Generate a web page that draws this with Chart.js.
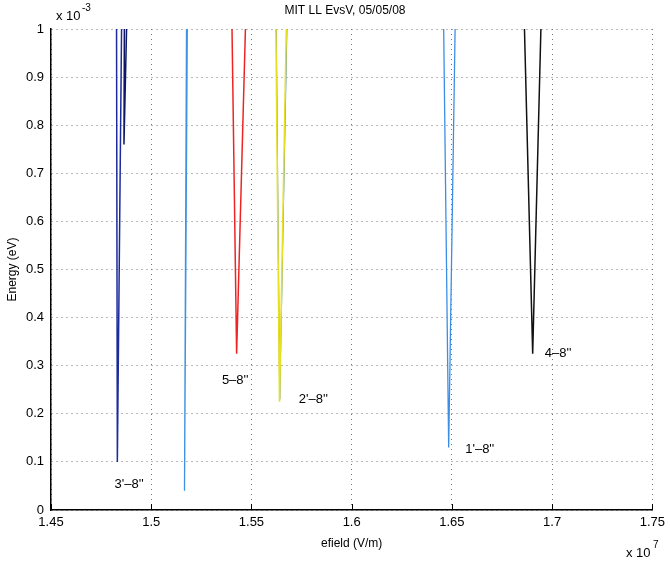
<!DOCTYPE html>
<html>
<head>
<meta charset="utf-8">
<script src="https://cdn.jsdelivr.net/npm/chart.js@4"></script>
<style>
  html, body { margin: 0; padding: 0; background: #fff; }
  #wrap { width: 670px; height: 563px; }
</style>
</head>
<body>
<div id="wrap"><canvas id="evsv" width="670" height="563"></canvas></div>
<script>
// axis units: efield in 1e7 V/m, energy in 1e-3 eV
const xTicks = [1.45, 1.5, 1.55, 1.6, 1.65, 1.7, 1.75];
const yTicks = [0, 0.1, 0.2, 0.3, 0.4, 0.5, 0.6, 0.7, 0.8, 0.9, 1];

// each curve: efield points and energy points (left top, bottom, right top)
const efield3pA = [1.4827, 1.4831, 1.4852];
const energy3pA = [1.0, 0.10, 1.0];
const efield3pB = [1.4866, 1.4864, 1.4877];
const energy3pB = [1.0, 0.76, 1.0];
const efieldBlueA = [1.5176, 1.5166, 1.5180];
const energyBlueA = [1.0, 0.04, 1.0];
const efield5 = [1.5403, 1.5426, 1.5470];
const energy5 = [1.0, 0.325, 1.0];
const efield2pY = [1.5622, 1.5640, 1.5674];
const energy2pY = [1.0, 0.225, 1.0];
const efield2pB = [1.5624, 1.5641, 1.5677];
const energy2pB = [1.0, 0.23, 1.0];
const efield1p = [1.6459, 1.6484, 1.6516];
const energy1p = [1.0, 0.13, 1.0];
const efield4 = [1.6862, 1.6903, 1.6944];
const energy4 = [1.0, 0.325, 1.0];

const labelText = ["3'\u20138''", "5\u20138''", "2'\u20138''", "1'\u20138''", "4\u20138''"];
const labelX = [1.489, 1.5419, 1.5809, 1.6639, 1.703];
const labelY = [0.054, 0.27, 0.229, 0.125, 0.326];

const FONT = "'Liberation Sans', Arial, sans-serif";

function pts(xs, ys) {
  return xs.map((x, i) => ({ x: x, y: ys[i] }));
}

function curve(xs, ys, color, width) {
  return {
    data: pts(xs, ys),
    borderColor: color,
    borderWidth: width,
    showLine: true,
    pointRadius: 0,
    tension: 0,
    fill: false,
  };
}

const annotations = {
  id: "annotations",
  afterDatasetsDraw(chart) {
    const ctx = chart.ctx;
    const xs = chart.scales.x;
    const ys = chart.scales.y;
    ctx.save();

    // small inward ticks on the bottom axis
    ctx.strokeStyle = "#000";
    ctx.lineWidth = 1;
    xTicks.forEach((v) => {
      const px = Math.round(xs.getPixelForValue(v)) + 0.5;
      ctx.beginPath();
      ctx.moveTo(px, ys.bottom);
      ctx.lineTo(px, ys.bottom - 6);
      ctx.stroke();
    });

    ctx.fillStyle = "#000";
    ctx.font = "13px " + FONT;
    ctx.textAlign = "center";
    ctx.textBaseline = "middle";
    labelText.forEach((t, i) => {
      ctx.fillText(t, xs.getPixelForValue(labelX[i]), ys.getPixelForValue(labelY[i]));
    });

    // title
    ctx.font = "12px " + FONT;
    ctx.fillText("MIT LL EvsV, 05/05/08", 345, 11);

    // exponent markers
    ctx.textAlign = "left";
    ctx.font = "13px " + FONT;
    ctx.fillText("x 10", 56, 16);
    ctx.font = "10px " + FONT;
    ctx.fillText("-3", 82, 8);
    ctx.font = "13px " + FONT;
    ctx.fillText("x 10", 626, 553);
    ctx.font = "10px " + FONT;
    ctx.fillText("7", 653, 545);
    ctx.restore();
  },
};

new Chart(document.getElementById("evsv"), {
  type: "scatter",
  data: {
    datasets: [
      curve(efield3pA, energy3pA, "#1b2a9c", 1.5),
      curve(efield3pB, energy3pB, "#0b1766", 1.5),
      curve(efieldBlueA, energyBlueA, "#3c93e0", 1.3),
      curve(efield5, energy5, "#ee2424", 1.5),
      curve(efield2pY, energy2pY, "#e6e020", 1.6),
      curve(efield2pB, energy2pB, "#2f7fd0", 1),
      curve(efield1p, energy1p, "#3a8ee6", 1.3),
      curve(efield4, energy4, "#111111", 1.5),
    ],
  },
  options: {
    responsive: false,
    animation: false,
    layout: { padding: { top: 29, right: 12, bottom: 0, left: 0 } },
    plugins: {
      legend: { display: false },
      tooltip: { enabled: false },
      title: { display: false },
    },
    scales: {
      x: {
        type: "linear",
        min: 1.45,
        max: 1.75,
        afterBuildTicks: (scale) => { scale.ticks = xTicks.map((v) => ({ value: v })); },
        afterFit: (scale) => { scale.height = 53; },
        ticks: {
          color: "#000",
          font: { family: FONT, size: 13 },
          padding: 5,
          maxRotation: 0,
          callback: (v) => String(Number(v.toFixed(2))),
        },
        grid: { color: "#777", lineWidth: 1, drawTicks: false },
        border: { display: true, color: "#000", width: 1.5, dash: [1, 4] },
        title: {
          display: true,
          text: "efield (V/m)",
          color: "#000",
          font: { family: FONT, size: 12 },
          padding: { top: 0, bottom: 12 },
        },
      },
      y: {
        type: "linear",
        min: 0,
        max: 1,
        afterBuildTicks: (scale) => { scale.ticks = yTicks.map((v) => ({ value: v })); },
        afterFit: (scale) => { scale.width = 51; },
        ticks: {
          color: "#000",
          font: { family: FONT, size: 13 },
          padding: 7,
          callback: (v) => String(Number(v.toFixed(1))),
        },
        grid: { color: "#777", lineWidth: 1, drawTicks: false },
        border: { display: true, color: "#000", width: 1.5, dash: [1, 4] },
        title: {
          display: true,
          text: "Energy (eV)",
          color: "#000",
          font: { family: FONT, size: 12 },
          padding: { top: 5, bottom: 0 },
        },
      },
    },
  },
  plugins: [annotations],
});
</script>
</body>
</html>
